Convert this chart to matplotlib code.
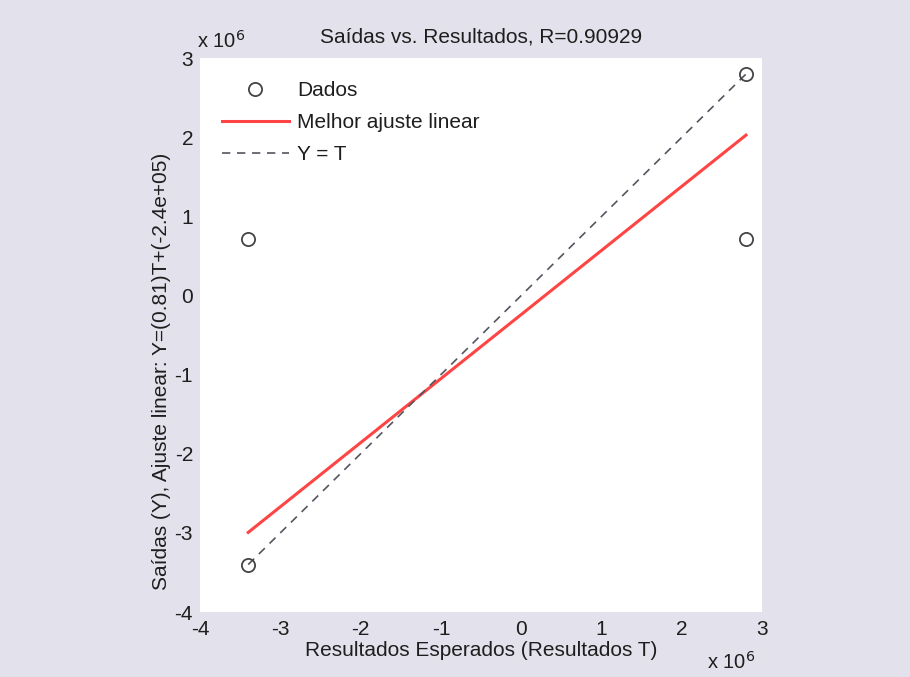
import matplotlib
matplotlib.use("Agg")
import matplotlib.pyplot as plt
import numpy as np

plt.rcParams['font.family'] = ['Liberation Sans', 'DejaVu Sans']

# Data (units of 1e6)
targets = np.array([-3.4, -3.4, 2.8, 2.8])
outputs = np.array([-3.4, 0.72, 2.8, 0.72])
fit_slope = 0.81
fit_intercept = -0.24  # in 1e6 units (-2.4e+05)
r_value = 0.90929
x_ticks = [-4, -3, -2, -1, 0, 1, 2, 3]
y_ticks = [-4, -3, -2, -1, 0, 1, 2, 3]

FS = 15
TXT = '#1e1e1e'

fig = plt.figure(figsize=(9.1, 6.77), dpi=100)
fig.patch.set_facecolor('#e3e1eb')
ax = fig.add_axes([0.2198, 0.096, 0.6176, 0.818])
ax.set_facecolor('white')

tline = np.array([targets.min(), targets.max()])
ax.plot(targets, outputs, 'o', mfc='none', mec='#444444', mew=1.3, ms=9.5, label='Dados', zorder=3)
ax.plot(tline, fit_slope * tline + fit_intercept, color='#ff4444', lw=2.2, label='Melhor ajuste linear')
ax.plot(tline, tline, '--', color='#555560', lw=1.2, dashes=(5, 4), label='Y = T')

ax.set_xlim(-4, 3)
ax.set_ylim(-4, 3)
ax.set_xticks(x_ticks)
ax.set_yticks(y_ticks)
ax.set_xticklabels([str(t) for t in x_ticks], fontsize=FS, color=TXT)
ax.set_yticklabels([str(t) for t in y_ticks], fontsize=FS, color=TXT)
ax.tick_params(axis='y', length=0, pad=5)
ax.tick_params(axis='x', length=0, pad=6)
for s in ax.spines.values():
    s.set_visible(False)

ax.set_title('Saídas vs. Resultados, R=%.5f' % r_value, fontsize=FS, color=TXT, pad=11)
ax.set_xlabel('Resultados Esperados (Resultados T)', fontsize=FS, color=TXT, labelpad=1)
ax.set_ylabel('Saídas (Y), Ajuste linear: Y=(%.2f)T+(%.1e)' % (fit_slope, fit_intercept * 1e6),
              fontsize=FS, color=TXT)
ax.yaxis.set_label_coords(-0.052, 0.435)

fig.text(0.217, 0.94, r'x 10$^{6}$', fontsize=14.5, color=TXT, ha='left', va='center')
fig.text(0.777, 0.022, r'x 10$^{6}$', fontsize=14.5, color=TXT, ha='left', va='center')

leg = ax.legend(loc='upper left', bbox_to_anchor=(0.039, 0.958), frameon=False, fontsize=FS,
                handlelength=3.2, borderpad=0, borderaxespad=0, labelspacing=0.62, handletextpad=0.4)
for t in leg.get_texts():
    t.set_color(TXT)

fig.savefig('out.png', dpi=100, facecolor=fig.get_facecolor())
